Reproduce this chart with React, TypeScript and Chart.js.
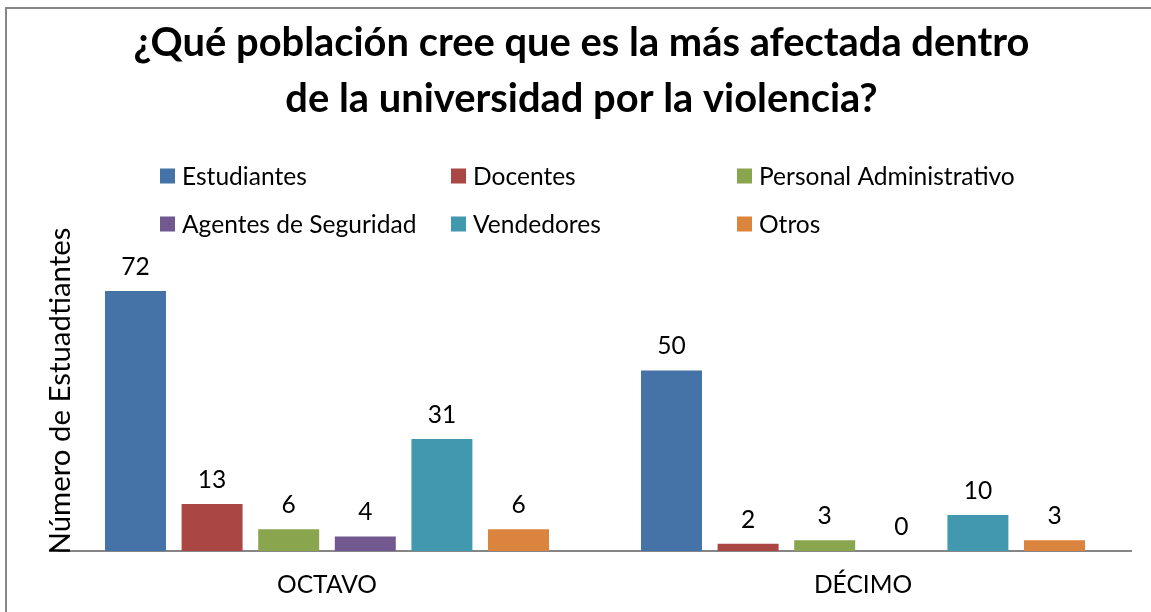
import React, { useEffect, useRef } from "react";
import { Chart, registerables } from "chart.js";

Chart.register(...registerables);

// ---------- data ----------
const categories = ["OCTAVO", "DÉCIMO"];
const seriesNames = [
  "Estudiantes",
  "Docentes",
  "Personal Administrativo",
  "Agentes de Seguridad",
  "Vendedores",
  "Otros",
];
const estudiantes = [72, 50];
const docentes = [13, 2];
const personalAdministrativo = [6, 3];
const agentesSeguridad = [4, 0];
const vendedores = [31, 10];
const otros = [6, 3];
const seriesValues = [estudiantes, docentes, personalAdministrativo, agentesSeguridad, vendedores, otros];
const seriesColors = ["#4572A7", "#AA4643", "#89A54E", "#71588F", "#4198AF", "#DB843D"];
const titleLines = ["¿Qué población cree que es la más afectada dentro", "de la universidad por la violencia?"];
const yAxisTitle = "Número de Estuadtiantes";

// ---------- styling ----------
const FAMILY = "Lato, 'Open Sans', sans-serif";
const CANVAS_W = 1151;
const CANVAS_H = 630;

function fitSize(text: string, weight: string, target: number): number {
  const c = document.createElement("canvas").getContext("2d")!;
  c.font = `${weight} 100px ${FAMILY}`;
  return (100 * target) / c.measureText(text).width;
}

export default function App() {
  const ref = useRef<HTMLCanvasElement | null>(null);

  useEffect(() => {
    const canvas = ref.current;
    if (!canvas) return;

    const titleSize = fitSize(titleLines[0], "bold", 896);
    const textSize = fitSize("Personal Administrativo", "normal", 256);
    const yTitleSize = fitSize(yAxisTitle, "normal", 327);
    const tickLH = textSize * 1.2;

    const framePlugin = {
      id: "frame",
      afterDraw(chart: any) {
        const ctx = chart.ctx;
        ctx.save();
        ctx.strokeStyle = "#868686";
        ctx.lineWidth = 2;
        ctx.strokeRect(6, 8, 1300, 800);
        ctx.restore();
      },
    };

    const titlePlugin = {
      id: "twoLineTitle",
      afterDraw(chart: any) {
        const ctx = chart.ctx;
        ctx.save();
        ctx.font = `bold ${titleSize}px ${FAMILY}`;
        ctx.fillStyle = "#000";
        ctx.textAlign = "center";
        ctx.textBaseline = "alphabetic";
        const baselines = [56, 112];
        titleLines.forEach((line, i) => ctx.fillText(line, 581.5, baselines[i]));
        ctx.restore();
      },
    };

    const gridLegendPlugin = {
      id: "gridLegend",
      afterDraw(chart: any) {
        const ctx = chart.ctx;
        const colX = [160, 451, 737];
        const rowY = [176, 224];
        ctx.save();
        ctx.font = `normal ${textSize}px ${FAMILY}`;
        ctx.textBaseline = "middle";
        ctx.textAlign = "left";
        chart.data.datasets.forEach((ds: any, i: number) => {
          const x = colX[i % 3];
          const y = rowY[Math.floor(i / 3)];
          ctx.fillStyle = ds.backgroundColor;
          ctx.fillRect(x, y - 7.5, 15, 15);
          ctx.fillStyle = "#000";
          ctx.fillText(ds.label, x + 22, y + 1);
        });
        ctx.restore();
      },
    };

    const yTitlePlugin = {
      id: "yTitle",
      afterDraw(chart: any) {
        const ctx = chart.ctx;
        ctx.save();
        ctx.translate(61, 391);
        ctx.rotate(-Math.PI / 2);
        ctx.font = `normal ${yTitleSize}px ${FAMILY}`;
        ctx.fillStyle = "#000";
        ctx.textAlign = "center";
        ctx.textBaseline = "middle";
        ctx.fillText(yAxisTitle, 0, 0);
        ctx.restore();
      },
    };

    const dataLabelPlugin = {
      id: "dataLabels",
      afterDatasetsDraw(chart: any) {
        const ctx = chart.ctx;
        ctx.save();
        ctx.font = `normal ${textSize}px ${FAMILY}`;
        ctx.fillStyle = "#000";
        ctx.textAlign = "center";
        ctx.textBaseline = "middle";
        chart.data.datasets.forEach((ds: any, i: number) => {
          const meta = chart.getDatasetMeta(i);
          meta.data.forEach((el: any, j: number) => {
            ctx.fillText(String(ds.data[j]), el.x, el.y - 24);
          });
        });
        ctx.restore();
      },
    };

    const chart = new Chart(canvas, {
      type: "bar",
      data: {
        labels: categories,
        datasets: seriesNames.map((name, i) => ({
          label: name,
          data: seriesValues[i],
          backgroundColor: seriesColors[i],
          borderWidth: 0,
          barPercentage: 0.796,
          categoryPercentage: 0.8575,
        })),
      },
      options: {
        responsive: false,
        animation: false,
        devicePixelRatio: 1,
        layout: { padding: { left: 59, right: 20, top: 262.1, bottom: 11 } },
        plugins: {
          legend: { display: false },
          tooltip: { enabled: false },
          title: { display: false },
        },
        scales: {
          x: {
            grid: { display: false, drawTicks: false },
            border: { display: true, color: "#868686", width: 2 },
            ticks: {
              color: "#000",
              font: { family: FAMILY, size: textSize },
              padding: 34 - tickLH / 2,
            },
          },
          y: { display: false, min: 0, max: 80 },
        },
      },
      plugins: [framePlugin, titlePlugin, gridLegendPlugin, yTitlePlugin, dataLabelPlugin],
    });

    return () => chart.destroy();
  }, []);

  return (
    <div
      style={{
        position: "fixed",
        left: 0,
        top: 0,
        width: CANVAS_W,
        height: 612,
        overflow: "hidden",
        background: "#fff",
      }}
    >
      <canvas ref={ref} width={CANVAS_W} height={CANVAS_H} style={{ display: "block" }} />
    </div>
  );
}
